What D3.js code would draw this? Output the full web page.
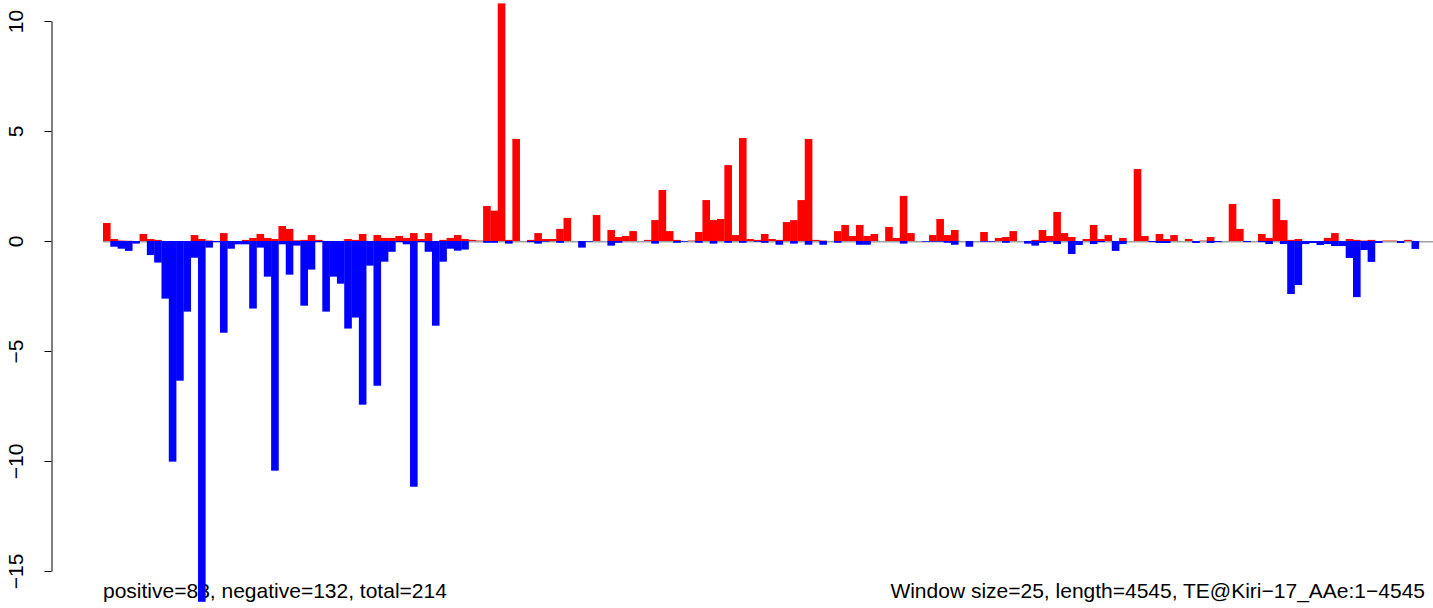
<!DOCTYPE html>
<html>
<head>
<meta charset="utf-8">
<script src="https://cdn.jsdelivr.net/npm/d3@7"></script>
<style>
  html, body { margin: 0; padding: 0; background: #ffffff; }
  svg { display: block; }
  text { font-family: "Liberation Sans", Arial, Helvetica, sans-serif; }
</style>
</head>
<body>
<svg id="chart" width="1433" height="608"></svg>
<script>
// ---- data (one value per 25-bp window) ----
const positive = [
  0.82,0.09,0.02,0.01,0,0.32,0.09,0.05,0,0,
  0,0,0.27,0.09,0.02,0,0.36,0,0,0.05,
  0.14,0.32,0.14,0.09,0.68,0.55,0.03,0.05,0.27,0.05,
  0,0,0,0.09,0.05,0.32,0,0.27,0.14,0.14,
  0.23,0.14,0.36,0.09,0.36,0,0.05,0.14,0.27,0.09,
  0.05,0.02,1.59,1.38,10.8,0.05,4.64,0,0.05,0.36,
  0.09,0.09,0.55,1.05,0,0,0,1.18,0,0.5,
  0.18,0.23,0.45,0,0.05,0.95,2.32,0.45,0.05,0,
  0.02,0.41,1.86,0.95,1.0,3.45,0.27,4.68,0.09,0.05,
  0.32,0.09,0.05,0.86,0.95,1.86,4.64,0.05,0.02,0,
  0.45,0.73,0.23,0.73,0.23,0.32,0,0.64,0.14,2.05,
  0.36,0,0,0.27,1.0,0.27,0.5,0,0,0,
  0.41,0,0.14,0.18,0.45,0,0,0.05,0.5,0.23,
  1.32,0.36,0.18,0,0.09,0.73,0.09,0.27,0,0.14,
  0,3.27,0.23,0,0.32,0.09,0.27,0,0.09,0,
  0.02,0.18,0,0,1.68,0.55,0,0,0.32,0.14,
  1.91,0.95,0.05,0.09,0,0,0,0.14,0.36,0,
  0.09,0.05,0.02,0.05,0,0.02,0.02,0,0.05,0,
  0,0
];
const negative = [
  0,-0.26,-0.35,-0.45,-0.12,0,-0.64,-0.98,-2.62,-10.03,
  -6.35,-3.21,-0.76,-16.4,-0.3,-0.05,-4.17,-0.35,-0.15,-0.15,
  -3.07,-0.3,-1.62,-10.44,-0.15,-1.53,-0.21,-2.94,-1.3,-0.05,
  -3.21,-1.62,-1.94,-3.98,-3.48,-7.44,-1.12,-6.58,-0.94,-0.49,
  -0.05,-0.15,-11.17,-0.05,-0.49,-3.85,-0.94,-0.35,-0.44,-0.39,
  0,0,-0.08,-0.08,0,-0.12,0,0,-0.05,-0.12,
  -0.03,0,-0.08,0,0,-0.3,-0.03,0,0,-0.21,
  -0.08,0,0,0,0,-0.12,0,0,-0.08,-0.03,
  0,-0.08,0,-0.12,0,-0.08,0,-0.08,0,-0.03,
  -0.08,0,-0.17,0,-0.12,0,-0.17,0,-0.17,0,
  -0.08,0,0,-0.17,-0.17,0,0,0,0,-0.12,
  0,0,-0.03,-0.03,-0.03,-0.08,-0.17,0,-0.26,0,
  -0.03,-0.03,0,-0.08,0,0,-0.12,-0.21,-0.08,-0.03,
  -0.14,0,-0.59,-0.18,0,-0.14,-0.05,0,-0.45,-0.14,
  0,0,0,-0.05,-0.09,-0.09,0,0,0,-0.09,
  0,-0.09,-0.05,0,0,0,-0.05,0,-0.05,-0.14,
  0,-0.14,-2.41,-2.0,-0.14,-0.09,-0.18,-0.14,-0.23,-0.23,
  -0.77,-2.55,-0.41,-0.95,-0.09,0,0,-0.09,0,-0.36,
  0,0
];
const yTicks = [-15, -10, -5, 0, 5, 10];
const leftNote = "positive=83, negative=132, total=214";
const rightNote = "Window size=25, length=4545, TE@Kiri\u221217_AAe:1\u22124545";

// ---- layout ----
const svg = d3.select("#chart");
const nWin = positive.length;
const x = d3.scaleLinear().domain([0, nWin]).range([103, 103 + nWin * 7.31]);
const y = d3.scaleLinear().domain([-15, 10]).range([571, 21]);
const FS = 21;

// bottom notes (drawn first so bars overlay them, as in the original)
svg.append("text").attr("x", 103).attr("y", 598)
  .attr("font-size", FS).attr("fill", "#000").text(leftNote);
svg.append("text").attr("x", 1425).attr("y", 598).attr("text-anchor", "end")
  .attr("font-size", FS).attr("fill", "#000").text(rightNote);

// zero reference line
svg.append("line")
  .attr("x1", x(0)).attr("x2", x(nWin))
  .attr("y1", y(0) + 0.7).attr("y2", y(0) + 0.7)
  .attr("stroke", "#a0a0a0").attr("stroke-width", 1.6);

const idx = d3.range(nWin);
svg.append("g").selectAll("rect").data(idx.filter(i => positive[i] > 0)).join("rect")
  .attr("x", i => x(i)).attr("width", i => x(i + 1) - x(i) + 0.3)
  .attr("y", i => y(positive[i])).attr("height", i => y(0) - y(positive[i]))
  .attr("fill", "#ff0000");

svg.append("g").selectAll("rect").data(idx.filter(i => negative[i] < 0)).join("rect")
  .attr("x", i => x(i)).attr("width", i => x(i + 1) - x(i) + 0.3)
  .attr("y", y(0)).attr("height", i => y(negative[i]) - y(0))
  .attr("fill", "#0000ff");

// y axis
const fmt = d => (d < 0 ? "\u2212" + Math.abs(d) : String(d));
const ax = svg.append("g").attr("transform", "translate(51.5,0)")
  .call(d3.axisLeft(y).tickValues(yTicks).tickSize(7).tickSizeOuter(0).tickFormat(fmt));
ax.select(".domain").attr("stroke", "#000");
ax.selectAll(".tick line").attr("stroke", "#000");
ax.selectAll(".tick text")
  .attr("x", 0).attr("y", 0).attr("dy", 0)
  .attr("transform", "translate(-29,0) rotate(-90)")
  .attr("text-anchor", "middle")
  .attr("fill", "#000")
  .style("font-size", FS + "px")
  .style("font-family", "'Liberation Sans', Arial, sans-serif");
</script>
</body>
</html>
